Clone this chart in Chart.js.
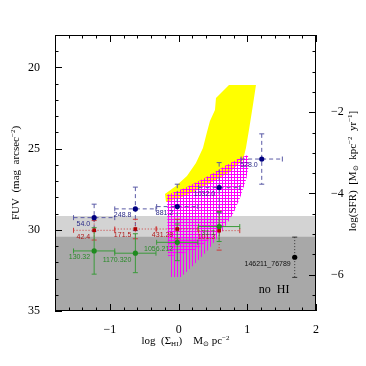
<!DOCTYPE html>
<html lang="en">
<head>
<meta charset="UTF-8">
<title>FUV vs log Sigma_HI</title>
<script src="https://cdn.jsdelivr.net/npm/chart.js"></script>
<style>
  body { margin: 0; background: #fff; }
  #wrap { width: 366px; height: 366px; }
</style>
</head>
<body>
<div id="wrap"><canvas id="c" width="366" height="366"></canvas></div>
<script>
// axis ranges
const xMin = -1.8, xMax = 2;
const fuvMin = 18, fuvMax = 35;
// log(SFR) = -2 at FUV 22.76, 2.5 mag per dex
const sfrOf = f => -2 - (f - 22.76) / 2.5;

// binned points, one column per log(Sigma_HI) bin
const binX = [-1.23, -0.63, -0.02, 0.59, 1.21];

const blueY = [29.25, 28.71, 28.57, 27.40, 25.64];
const blueYErr = [0.83, 1.34, 1.38, 1.54, 1.55];
const blueXErr = [0.3, 0.3, 0.3, 0.3, 0.3];
const blueLabels = ['54.0', '248.8', '881.2', '1032.0', '528.0'];

const redY = [30.03, 29.95, 29.95, 30.05];
const redYErr = [0.6, 0.6, 0.6, 1.2];
const redXErr = [0.3, 0.3, 0.3, 0.3];
const redLabels = ['42.4', '171.5', '431.28', '101.3'];

const greenY = [31.30, 31.44, 30.77, 29.80];
const greenYErr = [1.43, 1.2, 1.13, 0.92];
const greenXErr = [0.3, 0.3, 0.3, 0.3];
const greenLabels = ['130.32', '1170.320', '1056.212', '31.1'];

const blackX = [1.69];
const blackY = [31.69];
const blackYErr = [1.24];
const blackLabels = ['146211_76789'];

// HI detection limits (FUV)
const lightTop = 29.15;
const darkTop = 30.42;

// yellow region outline
const yellowX = [0.733, 1.126, 1.082, 1.024, 0.980, 0.937, 0.747, 0.383, 0.092, -0.184,
                 -0.199, -0.039, 0.121, 0.252, 0.354, 0.413, 0.456, 0.529, 0.544];
const yellowY = [21.08, 21.08, 22.31, 23.85, 24.96, 25.70, 26.44, 27.30, 27.91, 28.28,
                 27.79, 27.30, 26.68, 25.88, 24.96, 23.97, 23.30, 22.62, 21.88];

// hatched region (vertical lines)
const hatchVX = [-0.170, 0.092, 0.383, 0.675, 0.893, 1.009, 1.024, 0.980, 0.893, 0.791,
                 0.631, 0.427, 0.209, 0.034, -0.126, -0.155];
const hatchVY = [27.85, 27.42, 26.81, 26.07, 25.57, 25.39, 26.00, 26.93, 28.04, 29.02,
                 30.13, 31.24, 32.22, 32.90, 32.90, 30.62];
// hatched region (horizontal lines)
const hatchHX = [-0.170, 0.092, 0.383, 0.675, 0.893, 1.009, 1.024, 0.980, 0.893, 0.791,
                 0.529, 0.238, -0.155];
const hatchHY = [27.85, 27.42, 26.81, 26.07, 25.57, 25.39, 26.00, 26.93, 28.04, 29.02,
                 30.38, 31.24, 31.67];

const pts = (xs, ys) => xs.map((x, i) => ({x: x, y: ys[i]}));
const poly = (xs, ys) => { const p = pts(xs, ys); p.push(p[0]); return p; };

const canvas = document.getElementById('c');
function hatch(vertical) {
  const tile = document.createElement('canvas');
  tile.width = 3; tile.height = 3;
  const g = tile.getContext('2d');
  g.fillStyle = '#ff00ff';
  if (vertical) g.fillRect(0, 0, 1, 3); else g.fillRect(0, 0, 3, 1);
  return canvas.getContext('2d').createPattern(tile, 'repeat');
}

function area(data, color, order, extra) {
  return Object.assign({
    data: data, showLine: true, fill: 'shape', backgroundColor: color,
    borderColor: 'rgba(0,0,0,0)', borderWidth: 0, pointRadius: 0, order: order
  }, extra || {});
}

const errStyles = [
  {xs: binX, ys: blueY, xe: blueXErr, ye: blueYErr, color: '#5a5aa6', dash: [4, 3], labels: blueLabels, lab: '#2a2a88'},
  {xs: binX.slice(0, 4), ys: redY, xe: redXErr, ye: redYErr, color: '#cc3a3a', dash: [1, 2], labels: redLabels, lab: '#b01818'},
  {xs: binX.slice(0, 4), ys: greenY, xe: greenXErr, ye: greenYErr, color: '#3a9a3a', dash: [], labels: greenLabels, lab: '#2a8a2a'},
  {xs: blackX, ys: blackY, xe: [0], ye: blackYErr, color: '#333', dash: [1, 2], labels: blackLabels, lab: '#111'}
];

function drawErrors(chart) {
  const ctx = chart.ctx, sx = chart.scales.x, sy = chart.scales.y;
  ctx.save();
  ctx.lineWidth = 1;
  errStyles.forEach(s => {
    ctx.strokeStyle = s.color;
    s.xs.forEach((x, i) => {
      const px = sx.getPixelForValue(x), py = sy.getPixelForValue(s.ys[i]);
      ctx.setLineDash(s.dash);
      ctx.beginPath();
      if (s.xe[i]) {
        const x0 = sx.getPixelForValue(x - s.xe[i]), x1 = sx.getPixelForValue(x + s.xe[i]);
        ctx.moveTo(x0, py); ctx.lineTo(x1, py);
      }
      const y0 = sy.getPixelForValue(s.ys[i] - s.ye[i]), y1 = sy.getPixelForValue(s.ys[i] + s.ye[i]);
      ctx.moveTo(px, y0); ctx.lineTo(px, y1);
      ctx.stroke();
      ctx.setLineDash([]);
      ctx.beginPath();
      if (s.xe[i]) {
        const x0 = sx.getPixelForValue(x - s.xe[i]), x1 = sx.getPixelForValue(x + s.xe[i]);
        ctx.moveTo(x0, py - 2.5); ctx.lineTo(x0, py + 2.5);
        ctx.moveTo(x1, py - 2.5); ctx.lineTo(x1, py + 2.5);
      }
      ctx.moveTo(px - 2.5, y0); ctx.lineTo(px + 2.5, y0);
      ctx.moveTo(px - 2.5, y1); ctx.lineTo(px + 2.5, y1);
      ctx.stroke();
    });
  });
  ctx.restore();
}

function drawRuns(ctx, runs, cx, cy, rot) {
  ctx.save();
  ctx.translate(cx, cy);
  if (rot) ctx.rotate(rot);
  let total = 0;
  runs.forEach(r => {
    ctx.font = r[1] + 'px "Liberation Serif", serif';
    r.w = ctx.measureText(r[0]).width;
    total += r.w;
  });
  let x = -total / 2;
  ctx.fillStyle = '#000';
  ctx.textBaseline = 'alphabetic';
  runs.forEach(r => {
    ctx.font = r[1] + 'px "Liberation Serif", serif';
    ctx.fillText(r[0], x, r[2] || 0);
    x += r.w;
  });
  ctx.restore();
}

const near = (v, step) => Math.abs(v / step - Math.round(v / step)) < 1e-6;
const fmt = n => n < 0 ? '\u2212' + Math.abs(n) : String(n);

const decor = {
  id: 'decor',
  afterDatasetDraw(chart, args) {
    if (chart.data.datasets[args.index].barsAfter) drawErrors(chart);
  },
  afterDatasetsDraw(chart) {
    const ctx = chart.ctx, sx = chart.scales.x, sy = chart.scales.y;
    ctx.save();
    ctx.font = '7px "Liberation Sans", sans-serif';
    ctx.textAlign = 'right';
    ctx.textBaseline = 'middle';
    errStyles.forEach(s => {
      ctx.fillStyle = s.lab;
      s.xs.forEach((x, i) => {
        ctx.fillText(s.labels[i], sx.getPixelForValue(x) - 4, sy.getPixelForValue(s.ys[i]) + 6.5);
      });
    });
    ctx.fillStyle = '#000';
    ctx.font = '12px "Liberation Serif", serif';
    ctx.textAlign = 'center';
    ctx.fillText('no  HI', sx.getPixelForValue(1.39), sy.getPixelForValue(33.67));
    ctx.restore();
  },
  afterDraw(chart) {
    const ctx = chart.ctx, a = chart.chartArea, s = chart.scales;
    ctx.save();
    ctx.strokeStyle = '#000';
    ctx.lineWidth = 1;
    ctx.strokeRect(a.left + 0.5, a.top + 0.5, a.right - a.left - 1, a.bottom - a.top - 1);
    ctx.beginPath();
    s.x.ticks.forEach(t => {
      if (!near(t.value, 0.2)) return;
      const p = Math.round(s.x.getPixelForValue(t.value)) + 0.5;
      const len = near(t.value, 1) ? 7 : 3.5;
      ctx.moveTo(p, a.bottom); ctx.lineTo(p, a.bottom - len);
      ctx.moveTo(p, a.top); ctx.lineTo(p, a.top + len);
    });
    s.y.ticks.forEach(t => {
      if (!near(t.value, 1)) return;
      const p = Math.round(s.y.getPixelForValue(t.value)) + 0.5;
      const len = near(t.value, 5) ? 7 : 3.5;
      ctx.moveTo(a.left, p); ctx.lineTo(a.left + len, p);
    });
    s.y2.ticks.forEach(t => {
      if (!near(t.value, 0.5)) return;
      const p = Math.round(s.y2.getPixelForValue(t.value)) + 0.5;
      const len = near(t.value, 2) ? 7 : 3.5;
      ctx.moveTo(a.right, p); ctx.lineTo(a.right - len, p);
    });
    ctx.stroke();
    ctx.restore();
    const cx = (a.left + a.right) / 2, cy = (a.top + a.bottom) / 2;
    drawRuns(ctx, [['log  (\u03a3', 11], ['HI', 7, 2], [')    M', 11], ['\u2299', 7, 2], [' pc', 11], ['\u22122', 7, -4]], cx, 344);
    drawRuns(ctx, [['FUV  (mag  arcsec', 11], ['\u22122', 7, -4], [')', 11]], 19, cy, -Math.PI / 2);
    drawRuns(ctx, [['log(SFR)  [M', 11], ['\u2299', 7, 2], ['  kpc', 11], ['\u22122', 7, -4], ['  yr', 11], ['\u22121', 7, -4], [']', 11]], 356, cy - 2, -Math.PI / 2);
  }
};

Chart.defaults.font.family = '"Liberation Serif", serif';
Chart.defaults.font.size = 12;
Chart.defaults.color = '#000';

new Chart(canvas, {
  type: 'scatter',
  data: {
    datasets: [
      area(poly([xMin, xMax, xMax, xMin], [lightTop, lightTop, fuvMax, fuvMax]), '#d3d3d3', 20),
      area(poly([xMin, xMax, xMax, xMin], [darkTop, darkTop, fuvMax, fuvMax]), '#a8a8a8', 19),
      area(poly(yellowX, yellowY), '#ffff00', 18),
      area(poly(hatchVX, hatchVY), hatch(true), 17),
      area(poly(hatchHX, hatchHY), hatch(false), 16, {barsAfter: true}),
      {data: pts(binX, blueY), pointRadius: 2.6, pointBackgroundColor: '#000080', pointBorderWidth: 0, order: 4},
      {data: pts(binX.slice(0, 4), redY), pointStyle: 'rect', pointRadius: 2.6, pointBackgroundColor: '#b00000', pointBorderWidth: 0, order: 3},
      {data: pts(binX.slice(0, 4), greenY), pointRadius: 2.6, pointBackgroundColor: '#1f8a1f', pointBorderWidth: 0, order: 2},
      {data: pts(blackX, blackY), pointRadius: 2.6, pointBackgroundColor: '#000', pointBorderWidth: 0, order: 1}
    ]
  },
  options: {
    responsive: false,
    animation: false,
    events: [],
    layout: {padding: {top: 35}},
    plugins: {legend: {display: false}, tooltip: {enabled: false}},
    scales: {
      x: {
        type: 'linear', min: xMin, max: xMax,
        grid: {display: false}, border: {display: false},
        ticks: {stepSize: 0.2, autoSkip: false, maxRotation: 0, padding: 4,
                callback: v => near(v, 1) ? fmt(Math.round(v)) : ''},
        afterFit: s => { s.height = 55; }
      },
      y: {
        type: 'linear', min: fuvMin, max: fuvMax, reverse: true,
        grid: {display: false}, border: {display: false},
        ticks: {stepSize: 1, autoSkip: false, padding: 7,
                callback: v => near(v, 5) ? String(Math.round(v)) : ''},
        afterFit: s => { s.width = 55; }
      },
      y2: {
        type: 'linear', position: 'right',
        min: sfrOf(fuvMax), max: sfrOf(fuvMin),
        grid: {display: false}, border: {display: false},
        ticks: {stepSize: 0.5, autoSkip: false, padding: 7,
                callback: v => (near(v, 2) && v < -1) ? fmt(Math.round(v)) : ''},
        afterFit: s => { s.width = 50; }
      }
    }
  },
  plugins: [decor]
});
</script>
</body>
</html>
